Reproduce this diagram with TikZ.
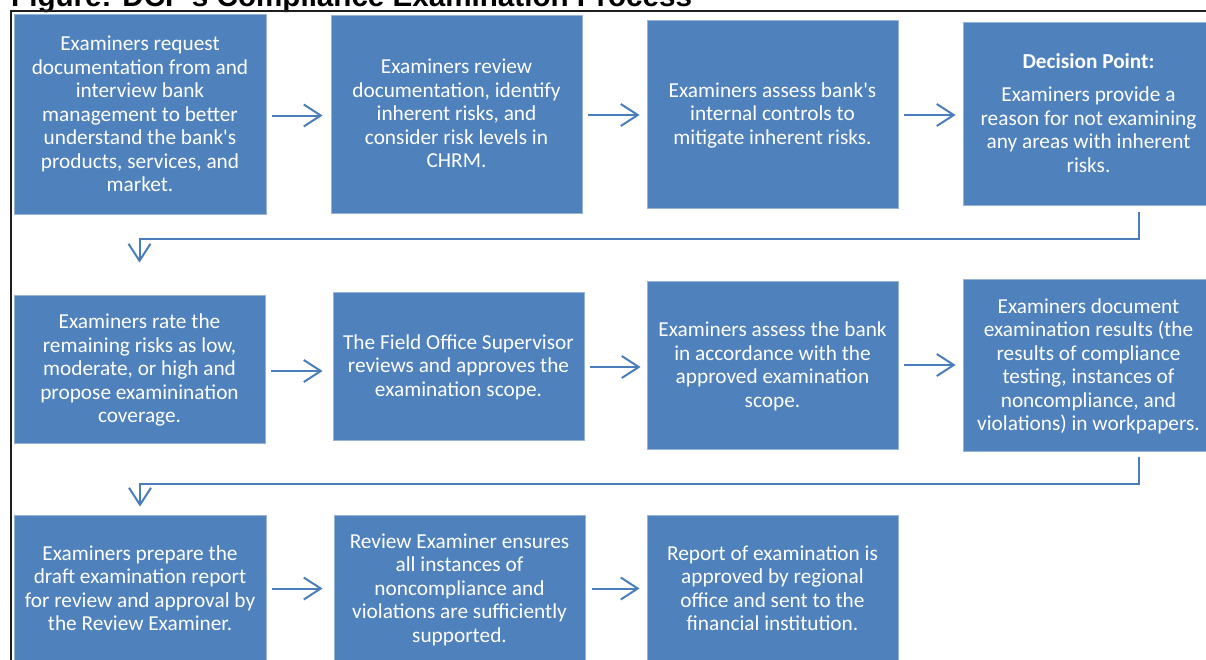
\documentclass[tikz,border=0pt]{standalone}
\usepackage{fontspec}
\setmainfont{Carlito}
\newfontfamily\titlefont{Liberation Sans}
\usetikzlibrary{arrows.meta,calc}
\definecolor{boxblue}{RGB}{79,129,189}
\definecolor{edgeblue}{RGB}{150,180,216}
\definecolor{arrowblue}{RGB}{74,126,187}
\definecolor{framegray}{RGB}{30,30,30}
\newcommand{\q}{\textquotesingle}
\begin{document}
\begin{tikzpicture}[x=1pt,y=-1pt,
  box/.style={fill=boxblue, draw=edgeblue, line width=0.8pt, inner sep=0pt},
  boxtext/.style={text=white, align=center, inner sep=0pt,
    font=\fontsize{21.3}{23.5}\selectfont,
    execute at begin node=\strut, execute at end node=\strut},
  flow/.style={draw=arrowblue, line width=2pt, shorten <=6pt,
    -{Straight Barb[length=17pt,width=22pt,line width=2pt]}},
  elbow/.style={draw=arrowblue, line width=2pt,
    -{Straight Barb[length=17pt,width=22pt,line width=2pt]}},
  frameline/.style={draw=framegray, line width=1.6pt}
]
\useasboundingbox (0,0) rectangle (1206,659);
\clip (0,0) rectangle (1206,659);

% title (cut off at the top, as in the reference)
\node[anchor=base west, inner sep=0pt, font=\titlefont\bfseries\fontsize{29.6}{30}\selectfont] (title) at (11,6)
  {Figure: DCP\q s Compliance Examination Process};

% frame
\draw[frameline] (11,700) -- (11,11) -- (1230,11);

% row 1
\node[box, minimum width=252, minimum height=200] (b1) at (140,114.5) {};
\node[boxtext] (t1) at ([yshift=-3pt]b1.center)
  {Examiners request\\documentation from and\\interview bank\\management to better\\understand the bank\q s\\products, services, and\\market.};
\node[box, minimum width=251, minimum height=198] (b2) at (456.5,114) {};
\node[boxtext] (t2) at ([yshift=-3pt]b2.center)
  {Examiners review\\documentation, identify\\inherent risks, and\\consider risk levels in\\CHRM.};
\node[box, minimum width=251, minimum height=188] (b3) at (772.5,114) {};
\node[boxtext] (t3) at ([yshift=-3pt]b3.center)
  {Examiners assess bank\q s\\internal controls to\\mitigate inherent risks.};
\node[box, minimum width=251, minimum height=183] (b4) at (1088.5,113.5) {};
\node[boxtext] (t4) at ([yshift=-3pt]b4.center)
  {\textbf{Decision Point:}\\[9.5pt]Examiners provide a\\reason for not examining\\any areas with inherent\\risks.};

% row 2
\node[box, minimum width=251, minimum height=148] (b5) at (139.5,369) {};
\node[boxtext] (t5) at ([yshift=-3pt]b5.center)
  {Examiners rate the\\remaining risks as low,\\moderate, or high and\\propose examinination\\coverage.};
\node[box, minimum width=251, minimum height=148] (b6) at (458.5,366) {};
\node[boxtext] (t6) at ([yshift=-3pt]b6.center)
  {The Field Office Supervisor\\reviews and approves the\\examination scope.};
\node[box, minimum width=251, minimum height=168] (b7) at (772.5,365) {};
\node[boxtext] (t7) at ([yshift=-3pt]b7.center)
  {Examiners assess the bank\\in accordance with the\\approved examination\\scope.};
\node[box, minimum width=251, minimum height=172] (b8) at (1088.5,365) {};
\node[boxtext] (t8) at ([yshift=-3pt]b8.center)
  {Examiners document\\examination results (the\\results of compliance\\testing, instances of\\noncompliance, and\\violations) in workpapers.};

% row 3
\node[box, minimum width=252, minimum height=147] (b9) at (140,588.5) {};
\node[boxtext] (t9) at ([yshift=-3pt]b9.center)
  {Examiners prepare the\\draft examination report\\for review and approval by\\the Review Examiner.};
\node[box, minimum width=251, minimum height=147] (b10) at (459.5,588.5) {};
\node[boxtext] (t10) at ([yshift=-3pt]b10.center)
  {Review Examiner ensures\\all instances of\\noncompliance and\\violations are sufficiently\\supported.};
\node[box, minimum width=251, minimum height=147] (b11) at (772.5,588.5) {};
\node[boxtext] (t11) at ([yshift=-3pt]b11.center)
  {Report of examination is\\approved by regional\\office and sent to the\\financial institution.};

% horizontal arrows
\draw[flow, shorten >=8pt] ([yshift=-1pt]b1.east) -- ([yshift=-1pt]b1.east -| b2.west);
\draw[flow, shorten >=7pt] ([yshift=-1pt]b2.east) -- ([yshift=-1pt]b2.east -| b3.west);
\draw[flow, shorten >=7pt] ([yshift=-1pt]b3.east) -- ([yshift=-1pt]b3.east -| b4.west);
\draw[flow, shorten >=10pt] ([yshift=-2pt]b5.east) -- ([yshift=-2pt]b5.east -| b6.west);
\draw[flow, shorten >=6pt] ([yshift=-1pt]b6.east) -- ([yshift=-1pt]b6.east -| b7.west);
\draw[flow, shorten >=7pt] (b7.east) -- (b7.east -| b8.west);
\draw[flow, shorten >=11pt] (b9.east) -- (b9.east -| b10.west);
\draw[flow, shorten >=7pt, shorten <=7pt] (b10.east) -- (b10.east -| b11.west);

% row-to-row connectors
\coordinate (c1) at ($(b4.south east)+(-75,7)$);
\draw[elbow] (c1) -- ++(0,27) -| ($(b5.north)+(0,-32)$);
\coordinate (c2) at ($(b8.south east)+(-75,6)$);
\draw[elbow] (c2) -- ++(0,26.5) -| ($(b9.north)+(0,-8)$);
\end{tikzpicture}
\end{document}
